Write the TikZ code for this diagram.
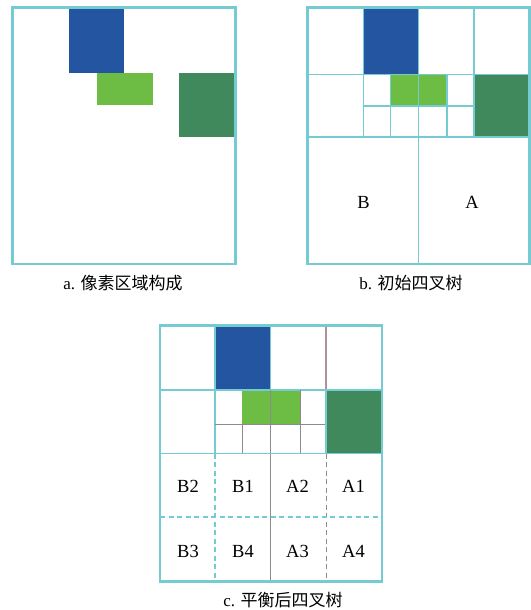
\documentclass[tikz,border=0pt]{standalone}
\usepackage{fontspec}
\setmainfont{Liberation Serif}
\newfontfamily\cjk{Noto Sans CJK SC}
\definecolor{gridc}{HTML}{74CCD2}
\definecolor{grayl}{HTML}{8C8C8C}
\definecolor{mauve}{HTML}{B0909A}
\definecolor{blueb}{HTML}{2355A0}
\definecolor{lgreen}{HTML}{6DBD45}
\definecolor{dgreen}{HTML}{3F895C}
\tikzset{
  outerbox/.style={draw=gridc,line width=2.2pt},
  gridline/.style={draw=gridc,line width=1.1pt},
  grayline/.style={draw=grayl,line width=1pt},
  dashline/.style={dash pattern=on 5pt off 3.5pt},
  lab/.style={font=\fontsize{18.5}{18.5}\selectfont,inner sep=0pt},
  captext/.style={font=\fontsize{17}{17}\selectfont,inner sep=0pt}
}
\begin{document}
\begin{tikzpicture}[x=1pt,y=-1pt]
\useasboundingbox (0,0) rectangle (530,610);
% ---------- panel a ----------
\fill[blueb] (68.5,7.5) rectangle (124,72.5);
\fill[lgreen] (97,72.5) rectangle (153,104.5);
\fill[dgreen] (179,72.5) rectangle (235.5,137);
\draw[outerbox] (12.5,7.5) rectangle (235.5,264);
\node[captext] (capa) at (123,283) {a. {\cjk 像素区域构成}};
% ---------- panel b ----------
\fill[blueb] (363.5,7.5) rectangle (418.5,74.5);
\fill[lgreen] (390.5,74.5) rectangle (447,106);
\fill[dgreen] (474,74.5) rectangle (529.5,137);
\draw[gridline] (363.5,7.5) -- (363.5,137);
\draw[gridline] (418.5,7.5) -- (418.5,264);
\draw[gridline] (474,7.5) -- (474,137);
\draw[gridline] (307.5,74.5) -- (529.5,74.5);
\draw[gridline] (307.5,137) -- (529.5,137);
\draw[gridline] (363.5,106) -- (474,106);
\draw[gridline] (390.5,74.5) -- (390.5,137);
\draw[gridline] (447,74.5) -- (447,137);
\draw[outerbox] (307.5,7.5) rectangle (529.5,264);
\node[lab] (B) at (363.5,202.5) {B};
\node[lab] (A) at (472,202.5) {A};
\node[captext] (capb) at (411,283) {b. {\cjk 初始四叉树}};
% ---------- panel c ----------
\fill[blueb] (215,325.5) rectangle (270.5,390);
\fill[lgreen] (242,390) rectangle (300,424);
\fill[dgreen] (326,390) rectangle (382,453.5);
\draw[gridline] (215,325.5) -- (215,453.5);
\draw[gridline] (270.5,325.5) -- (270.5,390);
\draw[mauve,line width=1.1pt] (326,325.5) -- (326,390);
\draw[gridline] (160,390) -- (382,390);
\draw[grayline] (215,424) -- (326,424);
\draw[grayline] (242,424) -- (242,453.5);
\draw[grayline] (270.5,390) -- (270.5,453.5);
\draw[grayline] (300,390) -- (300,453.5);
\draw[gridline] (326,390) -- (326,453.5);
\draw[gridline] (160,453.5) -- (382,453.5);
\draw[gridline,dashline] (215,453.5) -- (215,581.5);
\draw[grayline] (270.5,453.5) -- (270.5,581.5);
\draw[grayline,dashline] (326,453.5) -- (326,581.5);
\draw[gridline,dashline] (160,517) -- (382,517);
\draw[outerbox] (160,325.5) rectangle (382,581.5);
\node[lab] (B2) at (188,486.5) {B2};
\node[lab] (B1) at (243,486.5) {B1};
\node[lab] (A2) at (297.5,486.5) {A2};
\node[lab] (A1) at (353.5,486.5) {A1};
\node[lab] (B3) at (188,551.5) {B3};
\node[lab] (B4) at (243,551.5) {B4};
\node[lab] (A3) at (297.5,551.5) {A3};
\node[lab] (A4) at (353.5,551.5) {A4};
\node[captext] (capc) at (283,600) {c. {\cjk 平衡后四叉树}};
\end{tikzpicture}
\end{document}
